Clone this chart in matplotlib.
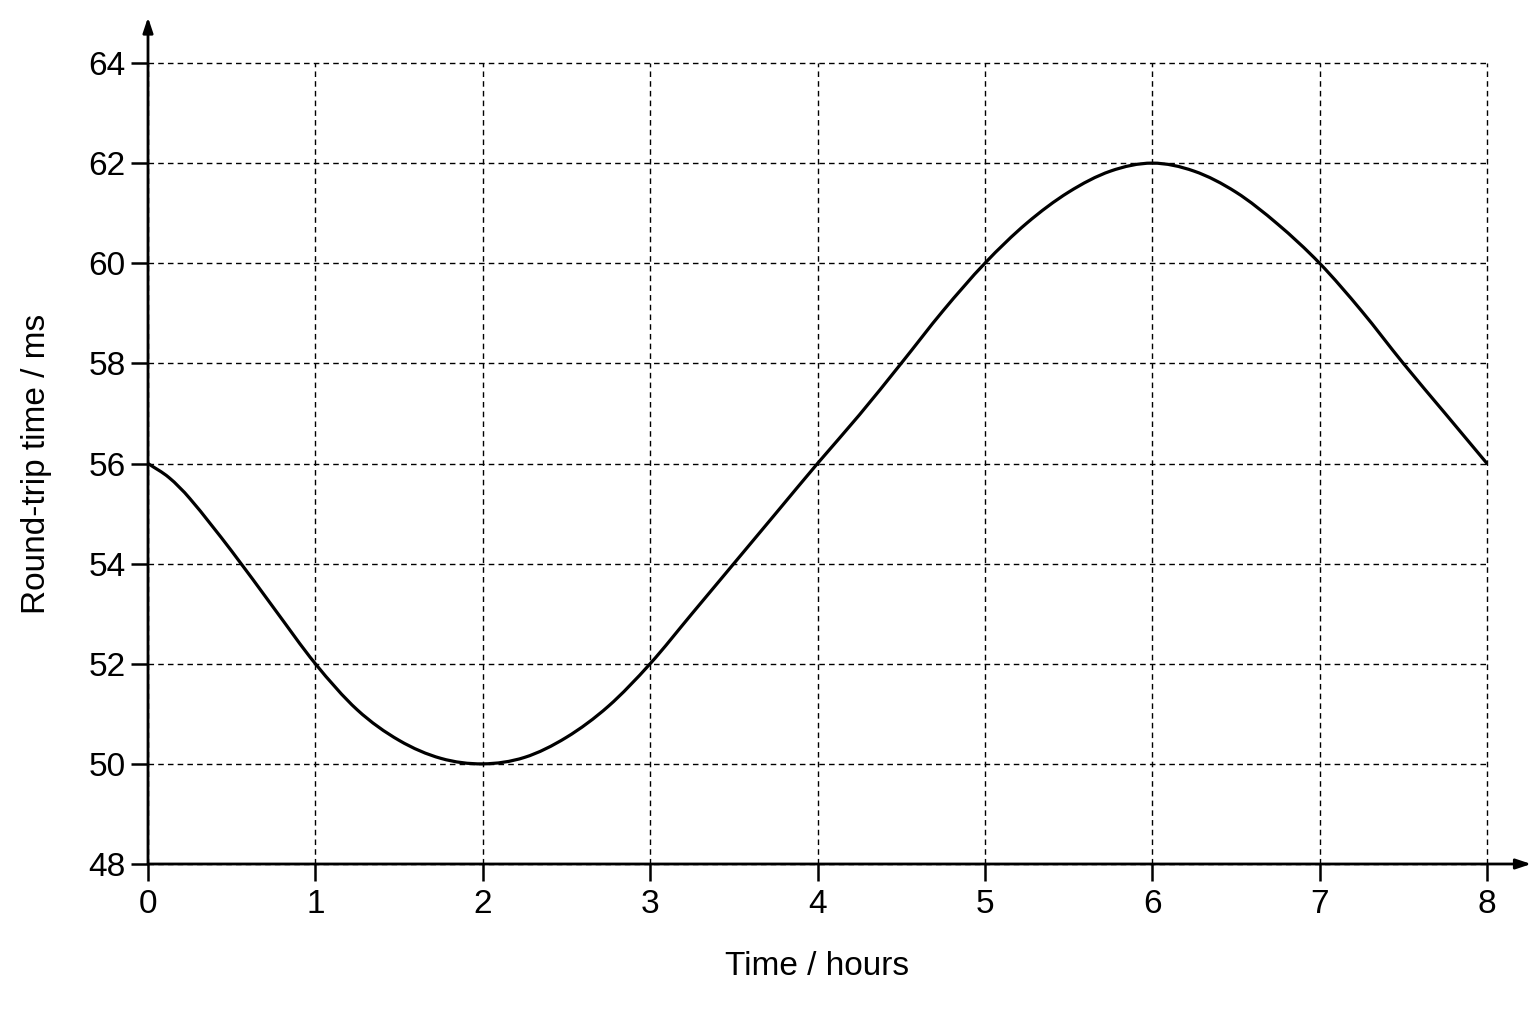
import matplotlib
matplotlib.use("Agg")
import matplotlib.pyplot as plt
import numpy as np
from matplotlib.path import Path
from matplotlib.patches import PathPatch
from matplotlib import font_manager

# values (quarter hours, one extra near the start)
hours = [0, 0.125, 0.25, 0.5, 0.75, 1, 1.25, 1.5, 1.75, 2, 2.25, 2.5, 2.75, 3,
         3.25, 3.5, 3.75, 4, 4.25, 4.5, 4.75, 5, 5.25, 5.5, 5.75, 6,
         6.25, 6.5, 6.75, 7, 7.25, 7.5, 7.75, 8]
rtt_ms = [56.0, 55.72, 55.3, 54.25, 53.12, 52.0, 51.08, 50.47, 50.11, 50.0, 50.13, 50.53, 51.15, 52.0,
          53.0, 54.0, 55.0, 56.0, 56.97, 58.0, 59.05, 60.0, 60.8, 61.42, 61.84, 62.0,
          61.84, 61.42, 60.78, 60.0, 59.05, 58.0, 57.0, 56.0]
x_ticks = [0, 1, 2, 3, 4, 5, 6, 7, 8]
y_ticks = [48, 50, 52, 54, 56, 58, 60, 62, 64]

names = {f.name for f in font_manager.fontManager.ttflist}
fam = 'Liberation Sans Narrow' if 'Liberation Sans Narrow' in names else 'Liberation Sans'
plt.rcParams['font.family'] = [fam, 'DejaVu Sans']

fig = plt.figure(figsize=(15.36, 10.24), dpi=100)
ax = fig.add_axes([148/1536, 1-864/1024, (1487-148)/1536, (864-63)/1024])

# smooth curve: catmull-rom (non-uniform x) through the read points, as a bezier path
p = np.column_stack([hours, rtt_ms])
n = len(p)

def tangent(i):
    # slope dy/dx at point i from its neighbours
    if i == 0:
        return (p[1, 1] - p[0, 1]) / (p[1, 0] - p[0, 0])
    if i == n - 1:
        return (p[-1, 1] - p[-2, 1]) / (p[-1, 0] - p[-2, 0])
    return (p[i+1, 1] - p[i-1, 1]) / (p[i+1, 0] - p[i-1, 0])

verts = [tuple(p[0])]
codes = [Path.MOVETO]
for i in range(n - 1):
    h = p[i+1, 0] - p[i, 0]
    c1 = (p[i, 0] + h/3, p[i, 1] + tangent(i) * h/3)
    c2 = (p[i+1, 0] - h/3, p[i+1, 1] - tangent(i+1) * h/3)
    verts += [c1, c2, tuple(p[i+1])]
    codes += [Path.CURVE4] * 3
ax.add_patch(PathPatch(Path(verts, codes), fill=False, color='black', lw=2.3,
                       capstyle='round', joinstyle='round', zorder=3))

ax.set_xlim(0, 8)
ax.set_ylim(48, 64)
ax.set_xticks(x_ticks)
ax.set_yticks(y_ticks)
ax.grid(True, color='black', linestyle=(0, (4, 3)), linewidth=1.0)
ax.set_axisbelow(True)
for gl in ax.get_xgridlines() + ax.get_ygridlines():
    gl.set_clip_on(False)

for s in ['top', 'right', 'left', 'bottom']:
    ax.spines[s].set_visible(False)

# axes with arrow heads
ax.annotate('', xy=(1.033, 0), xytext=(0, 0), xycoords='axes fraction',
            arrowprops=dict(arrowstyle='-|>,head_length=0.9,head_width=0.3', color='black', lw=2.0,
                            shrinkA=0, shrinkB=0))
ax.annotate('', xy=(0, 1.057), xytext=(0, 0), xycoords='axes fraction',
            arrowprops=dict(arrowstyle='-|>,head_length=0.9,head_width=0.3', color='black', lw=2.0,
                            shrinkA=0, shrinkB=0))

ax.tick_params(direction='out', length=12, width=1.8, labelsize=24, color='black')
ax.tick_params(axis='x', pad=6)
ax.tick_params(axis='y', pad=4)
ax.set_xlabel('Time / hours', fontsize=24, labelpad=22)
ax.set_ylabel('Round-trip time / ms', fontsize=24, labelpad=26)

fig.savefig('out.png', dpi=100, facecolor='white')
